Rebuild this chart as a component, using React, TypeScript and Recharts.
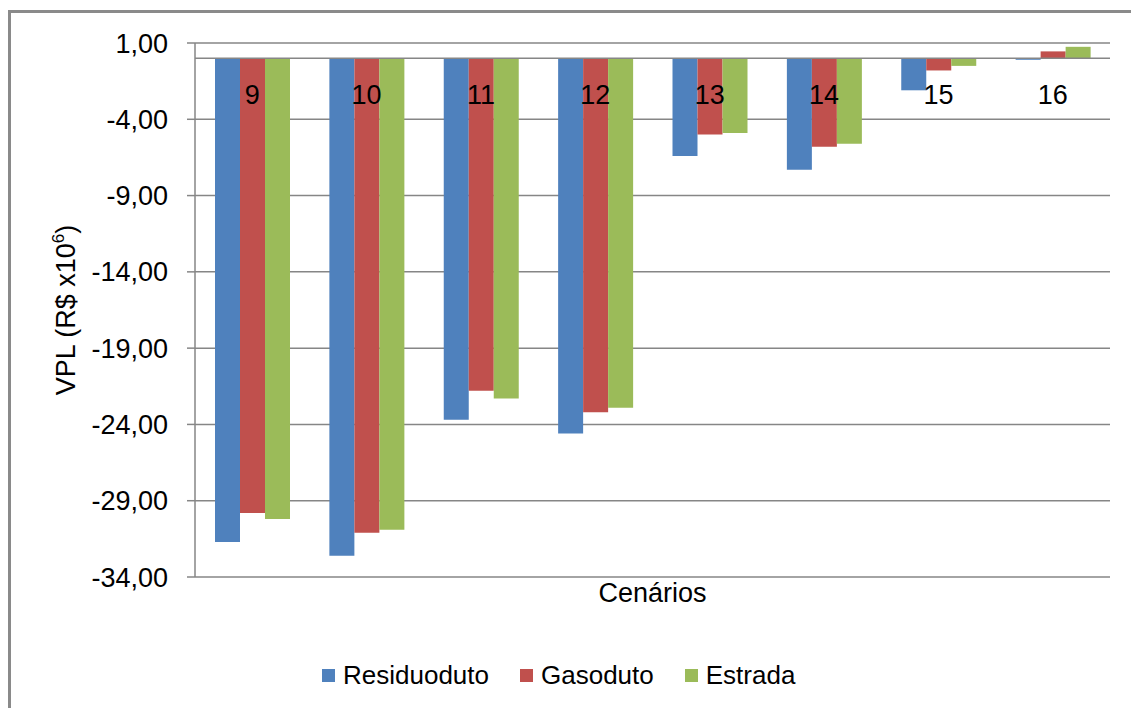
import { Bar, BarChart, CartesianGrid, Legend, ReferenceLine, XAxis, YAxis } from "recharts";

const cenarios = ["9", "10", "11", "12", "13", "14", "15", "16"]
const residuoduto = [-31.7, -32.6, -23.7, -24.6, -6.4, -7.3, -2.1, -0.1]
const gasoduto = [-29.8, -31.1, -21.8, -23.2, -5.0, -5.8, -0.8, 0.45]
const estrada = [-30.2, -30.9, -22.3, -22.9, -4.9, -5.6, -0.5, 0.75]
const seriesOrder = ["Residuoduto", "Gasoduto", "Estrada"]
const yTicks = [1, -4, -9, -14, -19, -24, -29, -34]

const data = cenarios.map((c, i) => ({
    cenario: c,
    Residuoduto: residuoduto[i],
    Gasoduto: gasoduto[i],
    Estrada: estrada[i],
}))

const FONT = "'Liberation Sans', Arial, sans-serif"
const GRAY = "#868686"

const formatTick = (v: number) => v.toFixed(2).replace(".", ",")

const YLabel = ({ viewBox }: any) => {
    const cx = 75
    const cy = viewBox ? viewBox.y + viewBox.height / 2 : 310
    return (
        <text x={cx} y={cy} transform={`rotate(-90, ${cx}, ${cy})`} textAnchor="middle"
              fontFamily={FONT} fontSize={27} fill="#000">
            VPL (R$ x10<tspan fontSize={17} dy={-11}>6</tspan><tspan dy={11}>)</tspan>
        </text>
    )
}

const LegendContent = ({ payload }: any) => {
    // keep the series order of the chart, not alphabetical
    const items = [...(payload || [])].sort((a: any, b: any) => seriesOrder.indexOf(a.value) - seriesOrder.indexOf(b.value))
    return (
        <div style={{ position: "relative", height: 0, fontFamily: FONT, color: "#000" }}>
            <div style={{ position: "absolute", top: 0, left: 0, width: 1305, textAlign: "center", fontSize: 27, lineHeight: "27px" }}>
                Cenários
            </div>
            <div style={{ position: "absolute", top: 82, left: 322, display: "flex", fontSize: 26, lineHeight: "27px" }}>
                {items.map((p: any) => (
                    <div key={p.value} style={{ display: "flex", alignItems: "center", marginRight: 31 }}>
                        <span style={{ width: 13, height: 13, background: p.color, marginRight: 8, display: "inline-block" }} />
                        {p.value}
                    </div>
                ))}
            </div>
        </div>
    )
}

const App = () => {
    return (
        <div style={{ position: "fixed", left: 0, top: 0, width: 1131, height: 708, overflow: "hidden", background: "#fff" }}>
            <div style={{ position: "absolute", left: 8, top: 10, width: 1200, height: 800, borderLeft: "3px solid #8a8a8a", borderTop: "3px solid #8a8a8a" }} />
            <div style={{ position: "absolute", left: 0, top: 0 }}>
                <BarChart width={1131} height={708} data={data} barSize={25} barGap={0}
                          margin={{ top: 43, right: 21, bottom: 131, left: 115 }}>
                    <CartesianGrid vertical={false} stroke={GRAY} strokeWidth={1.5} />
                    <YAxis type="number" domain={[-34, 1]} ticks={yTicks} width={80}
                           tickFormatter={formatTick} axisLine={{ stroke: GRAY, strokeWidth: 1.5 }}
                           tickLine={{ stroke: GRAY, strokeWidth: 1.5 }} tickSize={8} tickMargin={19}
                           tick={{ fontFamily: FONT, fontSize: 27, fill: "#000" }}
                           label={<YLabel />} />
                    <ReferenceLine y={0} stroke={GRAY} strokeWidth={1.5} />
                    <Bar dataKey="Residuoduto" fill="#4F81BD" isAnimationActive={false} />
                    <Bar dataKey="Gasoduto" fill="#C0504D" isAnimationActive={false} />
                    <Bar dataKey="Estrada" fill="#9BBB59" isAnimationActive={false} />
                    <XAxis dataKey="cenario" orientation="top" mirror axisLine={false} tickLine={false}
                           tickSize={0} tickMargin={42} interval={0}
                           tick={{ fontFamily: FONT, fontSize: 27, fill: "#000" }} />
                    <Legend verticalAlign="bottom" content={<LegendContent />}
                            wrapperStyle={{ left: 0, top: 580, width: 1131, height: 0 }} />
                </BarChart>
            </div>
        </div>
    )
}

export default App
